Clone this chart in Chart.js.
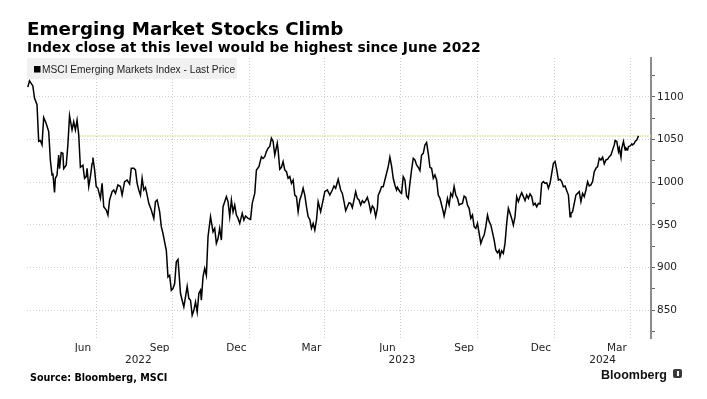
<!DOCTYPE html>
<html>
<head>
<meta charset="utf-8">
<script src="https://cdn.jsdelivr.net/npm/chart.js@4"></script>
<style>
    html, body { margin: 0; padding: 0; background: #fff; }
    #wrap { position: relative; width: 707px; height: 399px; overflow: hidden; }
    #chart { position: absolute; left: 0; top: 0; }
    .txt { position: absolute; white-space: nowrap; color: #000; line-height: 1; }
    #title { left: 27px; top: 18px; font: bold 18.3px "DejaVu Sans", sans-serif; }
    #subtitle { left: 27px; top: 39px; font: bold 13.9px "DejaVu Sans", sans-serif; }
    #source { left: 30px; top: 372px; font: bold 9.6px "DejaVu Sans", sans-serif; }
    #brand { left: 601px; top: 368px; font: bold 12.5px "Liberation Sans", sans-serif; color: #111; }
    #logo { position: absolute; left: 673px; top: 369px; width: 9px; height: 9px; background: #3a3a3a; border-radius: 2px; }
    #logo span { position: absolute; left: 4px; top: 2px; width: 1.5px; height: 5px; background: #fff; }
</style>
</head>
<body>
<div id="wrap">
    <canvas id="chart" width="707" height="399"></canvas>
    <div class="txt" id="title">Emerging Market Stocks Climb</div>
    <div class="txt" id="subtitle">Index close at this level would be highest since June 2022</div>
    <div class="txt" id="source">Source: Bloomberg, MSCI</div>
    <div class="txt" id="brand">Bloomberg</div>
    <div id="logo"><span></span></div>
</div>
<script>
// MSCI Emerging Markets Index - last price
const dates = [
    '2022-04-10','2022-04-12','2022-04-16','2022-04-18','2022-04-21','2022-04-23','2022-04-25','2022-04-27','2022-04-29','2022-05-02',
    '2022-05-05','2022-05-07','2022-05-09','2022-05-10','2022-05-12','2022-05-13','2022-05-15','2022-05-17','2022-05-18','2022-05-20',
    '2022-05-22','2022-05-23','2022-05-26','2022-05-28','2022-05-30','2022-06-02','2022-06-04','2022-06-06','2022-06-08','2022-06-10',
    '2022-06-12','2022-06-15','2022-06-17','2022-06-19','2022-06-20','2022-06-22','2022-06-24','2022-06-26','2022-06-27','2022-06-29',
    '2022-07-01','2022-07-03','2022-07-06','2022-07-08','2022-07-10','2022-07-13','2022-07-15','2022-07-17','2022-07-20','2022-07-22',
    '2022-07-24','2022-07-27','2022-07-30','2022-08-01','2022-08-04','2022-08-07','2022-08-10','2022-08-12','2022-08-15','2022-08-17',
    '2022-08-19','2022-08-21','2022-08-23','2022-08-25','2022-08-27','2022-08-29','2022-08-31','2022-09-02','2022-09-05','2022-09-08',
    '2022-09-10','2022-09-12','2022-09-15','2022-09-17','2022-09-19','2022-09-21','2022-09-23','2022-09-25','2022-09-27','2022-09-29',
    '2022-10-01','2022-10-03','2022-10-05','2022-10-07','2022-10-08','2022-10-10','2022-10-12','2022-10-14','2022-10-16','2022-10-18',
    '2022-10-20','2022-10-22','2022-10-24','2022-10-26','2022-10-28','2022-10-30','2022-11-01','2022-11-03','2022-11-04','2022-11-06',
    '2022-11-08','2022-11-10','2022-11-12','2022-11-15','2022-11-18','2022-11-20','2022-11-22','2022-11-24','2022-11-26','2022-11-28',
    '2022-11-30','2022-12-02','2022-12-04','2022-12-06','2022-12-08','2022-12-10','2022-12-12','2022-12-14','2022-12-16','2022-12-18',
    '2022-12-20','2022-12-23','2022-12-25','2022-12-27','2022-12-30','2023-01-02','2023-01-04','2023-01-07','2023-01-09','2023-01-12',
    '2023-01-15','2023-01-17','2023-01-19','2023-01-21','2023-01-23','2023-01-25','2023-01-27','2023-01-29','2023-01-31','2023-02-03',
    '2023-02-04','2023-02-06','2023-02-08','2023-02-10','2023-02-12','2023-02-14','2023-02-16','2023-02-18','2023-02-20','2023-02-22',
    '2023-02-24','2023-02-26','2023-02-28','2023-03-02','2023-03-04','2023-03-06','2023-03-08','2023-03-10','2023-03-12','2023-03-14',
    '2023-03-16','2023-03-18','2023-03-20','2023-03-22','2023-03-24','2023-03-27','2023-03-30','2023-04-01','2023-04-04','2023-04-07',
    '2023-04-10','2023-04-12','2023-04-14','2023-04-17','2023-04-20','2023-04-22','2023-04-24','2023-04-26','2023-04-28','2023-04-30',
    '2023-05-02','2023-05-04','2023-05-06','2023-05-08','2023-05-10','2023-05-12','2023-05-14','2023-05-16','2023-05-18','2023-05-20',
    '2023-05-22','2023-05-24','2023-05-26','2023-05-28','2023-05-30','2023-06-01','2023-06-03','2023-06-04','2023-06-06','2023-06-08',
    '2023-06-10','2023-06-12','2023-06-14','2023-06-16','2023-06-18','2023-06-20','2023-06-22','2023-06-24','2023-06-26','2023-06-27',
    '2023-06-30','2023-07-02','2023-07-04','2023-07-06','2023-07-08','2023-07-10','2023-07-12','2023-07-14','2023-07-16','2023-07-18',
    '2023-07-20','2023-07-22','2023-07-24','2023-07-26','2023-07-28','2023-07-30','2023-08-01','2023-08-03','2023-08-05','2023-08-07',
    '2023-08-09','2023-08-11','2023-08-13','2023-08-15','2023-08-17','2023-08-19','2023-08-21','2023-08-22','2023-08-24','2023-08-26',
    '2023-08-28','2023-08-30','2023-09-01','2023-09-03','2023-09-05','2023-09-07','2023-09-09','2023-09-11','2023-09-13','2023-09-15',
    '2023-09-17','2023-09-19','2023-09-21','2023-09-23','2023-09-25','2023-09-27','2023-09-29','2023-10-01','2023-10-03','2023-10-05',
    '2023-10-07','2023-10-09','2023-10-11','2023-10-13','2023-10-15','2023-10-17','2023-10-21','2023-10-23','2023-10-25','2023-10-27',
    '2023-10-28','2023-10-30','2023-11-01','2023-11-03','2023-11-05','2023-11-07','2023-11-09','2023-11-11','2023-11-13','2023-11-15',
    '2023-11-17','2023-11-19','2023-11-21','2023-11-23','2023-11-25','2023-11-27','2023-11-29','2023-12-01','2023-12-03','2023-12-05',
    '2023-12-07','2023-12-09','2023-12-11','2023-12-13','2023-12-15','2023-12-17','2023-12-19','2023-12-21','2023-12-23','2023-12-25',
    '2023-12-27','2023-12-29','2023-12-31','2024-01-02','2024-01-04','2024-01-06','2024-01-08','2024-01-10','2024-01-12','2024-01-14',
    '2024-01-16','2024-01-18','2024-01-20','2024-01-21','2024-01-23','2024-01-25','2024-01-27','2024-01-29','2024-01-31','2024-02-02',
    '2024-02-04','2024-02-06','2024-02-08','2024-02-10','2024-02-12','2024-02-14','2024-02-16','2024-02-18','2024-02-20','2024-02-22',
    '2024-02-24','2024-02-26','2024-02-28','2024-03-01','2024-03-03','2024-03-05','2024-03-07','2024-03-09','2024-03-11','2024-03-13',
    '2024-03-14','2024-03-16','2024-03-18','2024-03-19','2024-03-21','2024-03-22','2024-03-24','2024-03-26','2024-03-27','2024-03-29',
    '2024-03-30','2024-04-01','2024-04-03','2024-04-04','2024-04-06','2024-04-07','2024-04-09','2024-04-11'
];
const closes = [
    1111.6, 1119.0, 1113.0, 1098.7, 1091.0, 1048.0, 1049.0, 1044.0, 1076.0, 1069.0,
    1059.5, 1026.0, 1008.6, 1010.6, 988.0, 1004.7, 1008.6, 1032.0, 1016.0, 1034.8,
    1034.0, 1016.0, 1020.0, 1044.0, 1078.0, 1061.5, 1071.0, 1061.5, 1073.0, 1055.6,
    1017.6, 1020.0, 1004.7, 1006.7, 1016.4, 995.0, 1006.7, 1022.0, 1029.0, 1014.5,
    995.0, 993.0, 981.2, 998.8, 971.4, 967.5, 961.6, 979.3, 989.0, 991.0,
    987.0, 996.9, 995.0, 985.0, 1000.8, 1002.7, 998.0, 1016.4, 1016.4, 1014.5,
    998.8, 991.0, 985.0, 1004.7, 991.0, 994.0, 985.0, 975.3, 967.5, 957.7,
    977.3, 979.3, 965.5, 948.0, 940.0, 930.0, 920.3, 889.0, 891.0, 873.5,
    875.5, 881.4, 906.8, 909.6, 897.0, 869.6, 861.8, 854.0, 865.7, 878.0,
    864.0, 861.8, 844.2, 850.0, 859.8, 848.0, 869.6, 873.5, 861.8, 889.2,
    899.0, 891.0, 936.2, 959.7, 942.0, 946.0, 928.4, 934.0, 946.0, 932.3,
    971.4, 977.3, 983.2, 977.3, 959.7, 979.3, 965.5, 973.4, 961.6, 957.7,
    951.8, 963.6, 955.8, 960.5, 957.7, 956.5, 975.3, 987.0, 1014.5, 1018.4,
    1030.0, 1028.0, 1030.0, 1036.0, 1040.0, 1042.0, 1051.7, 1047.8, 1032.0, 1045.8,
    1038.0, 1015.3, 1017.6, 1024.3, 1014.5, 1012.5, 1004.7, 1006.7, 998.8, 1002.7,
    985.0, 983.2, 965.5, 979.3, 985.0, 993.0, 985.0, 971.4, 959.7, 956.5,
    946.0, 951.8, 944.0, 955.8, 977.3, 965.5, 979.3, 989.0, 991.0, 985.0,
    991.0, 995.7, 993.0, 1003.5, 991.0, 987.0, 977.3, 966.7, 971.4, 976.1,
    975.3, 970.2, 979.3, 989.0, 981.2, 979.3, 973.4, 978.5, 976.1, 978.5,
    982.4, 975.3, 965.5, 972.2, 969.5, 959.7, 969.5, 985.0, 989.0, 994.9,
    994.9, 1002.7, 1010.6, 1018.4, 1029.4, 1019.2, 1004.7, 996.9, 991.0, 994.0,
    989.0, 987.0, 1006.7, 1002.7, 984.0, 981.2, 998.8, 1014.5, 1028.2, 1026.2,
    1020.4, 1017.6, 1013.7, 1032.0, 1034.0, 1043.8, 1046.6, 1034.0, 1017.6, 1016.4,
    1004.7, 1008.6, 1002.7, 985.0, 981.2, 973.4, 965.5, 960.5, 969.5, 981.2,
    973.4, 987.0, 983.2, 995.0, 985.0, 981.2, 973.4, 974.6, 975.3, 983.9,
    982.4, 973.4, 969.5, 957.7, 961.6, 948.0, 946.0, 951.8, 940.0, 928.4,
    934.2, 938.1, 948.0, 961.6, 953.8, 950.0, 932.3, 920.5, 917.4, 920.5,
    912.7, 919.7, 916.6, 928.4, 951.8, 969.5, 963.6, 957.7, 949.9, 959.7,
    983.2, 977.3, 983.2, 987.9, 983.2, 978.5, 985.0, 981.2, 986.3, 983.2,
    973.4, 975.3, 971.4, 975.3, 974.6, 998.8, 1000.8, 998.8, 999.6, 993.0,
    998.8, 1010.6, 1022.3, 1024.3, 1014.5, 1002.7, 1003.5, 1000.8, 994.9, 995.7,
    990.2, 985.0, 959.7, 963.6, 965.5, 975.3, 985.0, 987.0, 989.0, 977.3,
    987.0, 983.2, 991.0, 1000.8, 995.7, 996.9, 1000.8, 1012.5, 1016.4, 1018.4,
    1028.2, 1026.2, 1029.4, 1021.5, 1026.2, 1027.0, 1030.1, 1032.0, 1038.0, 1043.8,
    1049.0, 1047.8, 1036.0, 1040.0, 1029.4, 1040.0, 1047.8, 1038.0, 1040.0, 1038.0,
    1041.9, 1042.7, 1045.0, 1043.8, 1045.8, 1047.8, 1049.7, 1054.4
];

// June 2022 level matched by the latest close
const refLevel = 1054.4;
const refStart = '2022-06-11';

// axis range and ticks
const axisStart = '2022-04-09';
const axisEnd = '2024-04-26';
const yMin = 817.5;
const yMax = 1145.7;
const yTicks = [825, 850, 875, 900, 925, 950, 975, 1000, 1025, 1050, 1075, 1100, 1125];
const gridDates = ['2022-07-01', '2022-10-01', '2023-01-01', '2023-04-01', '2023-07-01', '2023-10-01', '2024-01-01', '2024-04-01'];
const monthLabels = ['Jun', 'Sep', 'Dec', 'Mar', 'Jun', 'Sep', 'Dec', 'Mar'];
const monthLabelDates = ['2022-06-15', '2022-09-15', '2022-12-16', '2023-03-16', '2023-06-15', '2023-09-15', '2023-12-16', '2024-03-16'];
const years = [2022, 2023, 2024];

const seriesName = 'MSCI Emerging Markets Index - Last Price';

// days since 2022-01-01
function dayNum(s) {
    const p = s.split('-').map(Number);
    return (Date.UTC(p[0], p[1] - 1, p[2]) - Date.UTC(2022, 0, 1)) / 86400000;
}

const xMin = dayNum(axisStart);
const xMax = dayNum(axisEnd);

const gridDays = gridDates.map(dayNum);
const labelMap = {};
monthLabelDates.forEach((d, i) => { labelMap[dayNum(d)] = monthLabels[i]; });

// year labels sit in the middle of each year's visible span
const yearMap = {};
years.forEach(y => {
    const a = Math.max(xMin, dayNum(y + '-01-01'));
    const b = Math.min(xMax, dayNum((y + 1) + '-01-01'));
    yearMap[(a + b) / 2] = String(y);
});

const tickFont = { family: '"DejaVu Sans", sans-serif', size: 10.5 };
const gridColor = '#cfcfcf';

// grey legend box drawn inside the plot
const legendBox = {
    id: 'legendBox',
    beforeDatasetsDraw(chart) {
        const ctx = chart.ctx;
        const a = chart.chartArea;
        ctx.save();
        ctx.fillStyle = '#f1f1f1';
        ctx.fillRect(a.left, a.top, 210, 21);
        ctx.fillStyle = '#000';
        ctx.fillRect(a.left + 7, a.top + 8, 6.5, 6.5);
        ctx.font = '10.2px "Liberation Sans", sans-serif';
        ctx.fillStyle = '#222';
        ctx.textBaseline = 'alphabetic';
        ctx.fillText(seriesName, a.left + 15, a.top + 15);
        ctx.restore();
    }
};

const ctx = document.getElementById('chart').getContext('2d');
new Chart(ctx, {
    type: 'line',
    data: {
        datasets: [{
            label: seriesName,
            data: dates.map((d, i) => ({ x: dayNum(d), y: closes[i] })),
            borderColor: '#000',
            borderWidth: 1.5,
            pointRadius: 0,
            tension: 0,
            order: 1
        }, {
            label: 'level',
            data: [{ x: dayNum(refStart), y: refLevel }, { x: xMax, y: refLevel }],
            borderColor: '#d6e2a0',
            borderWidth: 1.5,
            borderDash: [1.5, 1],
            pointRadius: 0,
            order: 2
        }]
    },
    options: {
        responsive: false,
        animation: false,
        layout: { padding: { left: 27, top: 58, right: 0, bottom: 31 } },
        plugins: {
            legend: { display: false },
            tooltip: { enabled: false }
        },
        scales: {
            x: {
                type: 'linear',
                position: 'bottom',
                min: xMin,
                max: xMax,
                afterBuildTicks: s => {
                    s.ticks = gridDays.concat(Object.keys(labelMap).map(Number))
                        .filter(v => v >= xMin && v <= xMax)
                        .sort((a, b) => a - b)
                        .map(v => ({ value: v }));
                },
                afterFit: s => { s.height = 14; },
                ticks: {
                    autoSkip: false,
                    maxRotation: 0,
                    padding: 4,
                    color: '#222',
                    font: tickFont,
                    callback: v => labelMap[v] || ''
                },
                grid: {
                    drawTicks: false,
                    color: c => (c.tick && gridDays.includes(c.tick.value)) ? gridColor : 'transparent'
                },
                border: { display: false, dash: [1, 2] }
            },
            x2: {
                type: 'linear',
                position: 'bottom',
                min: xMin,
                max: xMax,
                afterBuildTicks: s => {
                    s.ticks = Object.keys(yearMap).map(Number).map(v => ({ value: v }));
                },
                afterFit: s => { s.height = 16; },
                ticks: {
                    autoSkip: false,
                    maxRotation: 0,
                    padding: 2,
                    color: '#222',
                    font: tickFont,
                    callback: v => yearMap[v] || ''
                },
                grid: { display: false, drawTicks: false },
                border: { display: false }
            },
            y: {
                position: 'right',
                min: yMin,
                max: yMax,
                afterBuildTicks: s => { s.ticks = yTicks.map(v => ({ value: v })); },
                afterFit: s => { s.width = 56; },
                ticks: {
                    padding: 2,
                    color: '#222',
                    font: tickFont,
                    callback: v => (v % 50 === 0 ? String(v) : '')
                },
                grid: {
                    drawTicks: true,
                    tickLength: 4,
                    tickColor: '#666',
                    tickBorderDash: [],
                    color: c => (c.tick && c.tick.value % 50 === 0) ? gridColor : 'transparent'
                },
                border: { display: true, color: '#8c8c8c', width: 2, dash: [1, 2] }
            }
        }
    },
    plugins: [legendBox]
});
</script>
</body>
</html>
